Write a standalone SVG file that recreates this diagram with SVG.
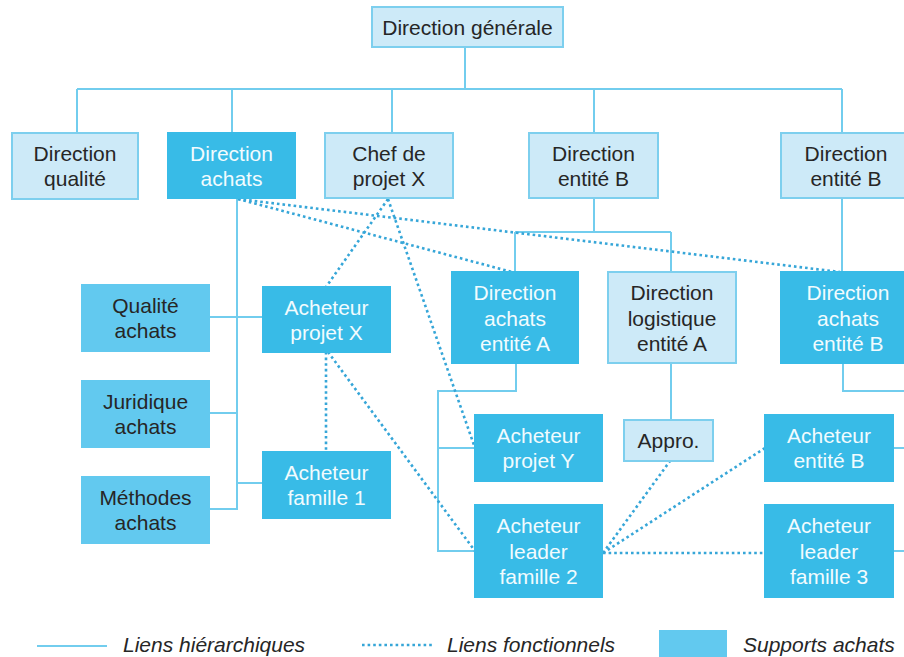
<svg xmlns="http://www.w3.org/2000/svg" width="904" height="657" viewBox="0 0 904 657">
  <style>
    .box-light { fill: #cdeaf8; stroke: #7dcfee; stroke-width: 2; }
    .box-dark { fill: #38bbe7; stroke: #38bbe7; stroke-width: 2; }
    .box-support { fill: #62c9ef; stroke: #62c9ef; stroke-width: 2; }
    text { font-family: "Liberation Sans", Arial, sans-serif; font-size: 21px; text-anchor: middle; }
    .t-dark { fill: #262626; }
    .t-white { fill: #f2fbfe; }
    .legend { fill: #262626; font-style: italic; text-anchor: start; }
    .hier { fill: none; stroke: #72cdee; stroke-width: 2; }
    .func { fill: none; stroke: #36a6d8; stroke-width: 2.6; stroke-dasharray: 2.6 3; }
  </style>
  <rect width="904" height="657" fill="#ffffff"/>

  <!-- hierarchical and functional links -->
  <g id="connectors">
    <path class="hier" d="M465,47 V89 M77,89 H842 M77,89 V133 M232,89 V133 M392,89 V133 M594,89 V133 M842,89 V133"/>
    <path class="hier" d="M237,198 V509 H209 M209,317 H263 M209,413 H237 M237,483 H263"/>
    <path class="hier" d="M594,198 V232 M515,232 H671 M515,232 V272 M671,232 V272 M842,198 V272"/>
    <path class="hier" d="M516,363 V391 H438 V551 H475 M438,448 H475"/>
    <path class="hier" d="M671,363 V420"/>
    <path class="hier" d="M843,363 V391 H904 M893,448 H904 M893,551 H904"/>

    <path class="func" d="M238,199 L512,272"/>
    <path class="func" d="M238,199 L840,272"/>
    <path class="func" d="M388,199 L326,287"/>
    <path class="func" d="M388,199 L475,448"/>
    <path class="func" d="M326,352 L326,452"/>
    <path class="func" d="M328,352 L475,551"/>
    <path class="func" d="M603,553 L670,461"/>
    <path class="func" d="M603,553 L765,448"/>
    <path class="func" d="M603,553 L765,553"/>
  </g>

  <g id="direction-generale">
    <rect class="box-light" x="372" y="7" width="191" height="40"/>
    <text class="t-dark" x="467.5" y="34.5">Direction générale</text>
  </g>
  <g id="direction-qualite">
    <rect class="box-light" x="12" y="133" width="126" height="66"/>
    <text class="t-dark" x="75" y="161">Direction</text>
    <text class="t-dark" x="75" y="186">qualité</text>
  </g>
  <g id="direction-achats">
    <rect class="box-dark" x="168" y="133" width="127" height="65"/>
    <text class="t-white" x="231.5" y="161">Direction</text>
    <text class="t-white" x="231.5" y="186">achats</text>
  </g>
  <g id="chef-projet-x">
    <rect class="box-light" x="325" y="133" width="128" height="65"/>
    <text class="t-dark" x="389" y="161">Chef de</text>
    <text class="t-dark" x="389" y="186">projet X</text>
  </g>
  <g id="direction-entite-b-1">
    <rect class="box-light" x="529" y="133" width="129" height="65"/>
    <text class="t-dark" x="593.5" y="161">Direction</text>
    <text class="t-dark" x="593.5" y="186">entité B</text>
  </g>
  <g id="direction-entite-b-2">
    <rect class="box-light" x="781" y="133" width="130" height="65"/>
    <text class="t-dark" x="846" y="161">Direction</text>
    <text class="t-dark" x="846" y="186">entité B</text>
  </g>

  <g id="qualite-achats">
    <rect class="box-support" x="82" y="285" width="127" height="66"/>
    <text class="t-dark" x="145.5" y="313">Qualité</text>
    <text class="t-dark" x="145.5" y="338">achats</text>
  </g>
  <g id="juridique-achats">
    <rect class="box-support" x="82" y="381" width="127" height="66"/>
    <text class="t-dark" x="145.5" y="409">Juridique</text>
    <text class="t-dark" x="145.5" y="434">achats</text>
  </g>
  <g id="methodes-achats">
    <rect class="box-support" x="82" y="477" width="127" height="66"/>
    <text class="t-dark" x="145.5" y="505">Méthodes</text>
    <text class="t-dark" x="145.5" y="530">achats</text>
  </g>
  <g id="acheteur-projet-x">
    <rect class="box-dark" x="263" y="287" width="127" height="65"/>
    <text class="t-white" x="326.5" y="315">Acheteur</text>
    <text class="t-white" x="326.5" y="340">projet X</text>
  </g>
  <g id="acheteur-famille-1">
    <rect class="box-dark" x="263" y="452" width="127" height="66"/>
    <text class="t-white" x="326.5" y="480">Acheteur</text>
    <text class="t-white" x="326.5" y="505">famille 1</text>
  </g>

  <g id="direction-achats-entite-a">
    <rect class="box-dark" x="452" y="272" width="126" height="91"/>
    <text class="t-white" x="515" y="300">Direction</text>
    <text class="t-white" x="515" y="326">achats</text>
    <text class="t-white" x="515" y="351">entité A</text>
  </g>
  <g id="direction-logistique-entite-a">
    <rect class="box-light" x="608" y="272" width="128" height="91"/>
    <text class="t-dark" x="672" y="300">Direction</text>
    <text class="t-dark" x="672" y="326">logistique</text>
    <text class="t-dark" x="672" y="351">entité A</text>
  </g>
  <g id="direction-achats-entite-b">
    <rect class="box-dark" x="781" y="272" width="134" height="91"/>
    <text class="t-white" x="848" y="300">Direction</text>
    <text class="t-white" x="848" y="326">achats</text>
    <text class="t-white" x="848" y="351">entité B</text>
  </g>

  <g id="acheteur-projet-y">
    <rect class="box-dark" x="475" y="415" width="127" height="66"/>
    <text class="t-white" x="538.5" y="443">Acheteur</text>
    <text class="t-white" x="538.5" y="468">projet Y</text>
  </g>
  <g id="appro">
    <rect class="box-light" x="624" y="420" width="89" height="41"/>
    <text class="t-dark" x="668.5" y="447.5">Appro.</text>
  </g>
  <g id="acheteur-entite-b">
    <rect class="box-dark" x="765" y="415" width="128" height="66"/>
    <text class="t-white" x="829" y="443">Acheteur</text>
    <text class="t-white" x="829" y="468">entité B</text>
  </g>
  <g id="acheteur-leader-famille-2">
    <rect class="box-dark" x="475" y="505" width="127" height="92"/>
    <text class="t-white" x="538.5" y="533">Acheteur</text>
    <text class="t-white" x="538.5" y="559">leader</text>
    <text class="t-white" x="538.5" y="584">famille 2</text>
  </g>
  <g id="acheteur-leader-famille-3">
    <rect class="box-dark" x="765" y="505" width="128" height="92"/>
    <text class="t-white" x="829" y="533">Acheteur</text>
    <text class="t-white" x="829" y="559">leader</text>
    <text class="t-white" x="829" y="584">famille 3</text>
  </g>

  <!-- key -->
  <g id="legend">
    <path class="hier" d="M37,646 H107"/>
    <text class="legend" x="123" y="652">Liens hiérarchiques</text>
    <path class="func" d="M362,645 H433"/>
    <text class="legend" x="447" y="652">Liens fonctionnels</text>
    <rect class="box-support" x="660" y="631" width="66" height="30"/>
    <text class="legend" x="743" y="652">Supports achats</text>
  </g>
</svg>
